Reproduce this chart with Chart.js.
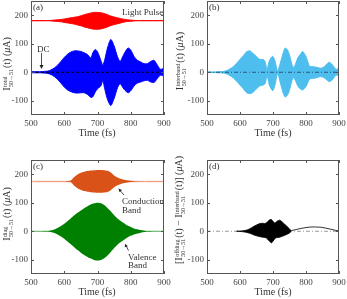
<!DOCTYPE html>
<html>
<head>
<meta charset="utf-8">
<script src="https://cdn.jsdelivr.net/npm/chart.js@4.4.0/dist/chart.umd.min.js"></script>
<style>
  body { margin: 0; background: #fff; width: 347px; height: 299px; overflow: hidden; position: relative; font-family: "Liberation Serif", serif; color: #333; }
  canvas { position: absolute; }
  .t { position: absolute; font-size: 9px; line-height: 9px; white-space: nowrap; }
  .xt { position: absolute; font-size: 10px; line-height: 10px; white-space: nowrap; transform: translate(-50%, -50%); }
  .yt { position: absolute; font-size: 10px; line-height: 10px; white-space: nowrap; transform: translate(-50%, -50%) rotate(-90deg); }
  .ss { display: inline-block; font-size: 6px; line-height: 6px; vertical-align: -3px; margin: 0 1px 0 0.5px; text-align: left; }
  .ss span { display: block; }
  svg { position: absolute; left: 0; top: 0; }
</style>
</head>
<body>
<canvas id="cA" width="173" height="148" style="left:0;top:0"></canvas>
<canvas id="cB" width="175" height="148" style="left:172px;top:0"></canvas>
<canvas id="cC" width="173" height="151" style="left:0;top:148px"></canvas>
<canvas id="cD" width="175" height="151" style="left:172px;top:148px"></canvas>

<div class="yt" style="left:8px;top:64px">I<span class="ss"><span>total</span><span>50→51</span></span>(t) (<i>μ</i>A)</div>
<div class="yt" style="left:181px;top:61px">I<span class="ss"><span>interband</span><span>50→51</span></span>(t) (<i>μ</i>A)</div>
<div class="yt" style="left:8px;top:214px">I<span class="ss"><span>diag</span><span>50→51</span></span>(t) (<i>μ</i>A)</div>
<div class="yt" style="left:180px;top:210px">[I<span class="ss"><span>offdiag</span><span>50→51</span></span>(t) − I<span class="ss"><span>interband</span><span>50→51</span></span>(t)] (<i>μ</i>A)</div>

<div class="xt" style="left:97px;top:133px">Time (fs)</div>
<div class="xt" style="left:273px;top:133px">Time (fs)</div>
<div class="xt" style="left:97px;top:292px">Time (fs)</div>
<div class="xt" style="left:273px;top:292px">Time (fs)</div>

<div class="t" style="left:33px;top:3px">(a)</div>
<div class="t" style="left:209px;top:3px">(b)</div>
<div class="t" style="left:33px;top:162px">(c)</div>
<div class="t" style="left:209px;top:162px">(d)</div>
<div class="t" style="left:122px;top:8px">Light Pulse</div>
<div class="t" style="left:37px;top:45px">DC</div>
<div class="t" style="left:122px;top:197px">Conduction</div>
<div class="t" style="left:122px;top:206px">Band</div>
<div class="t" style="left:128px;top:253px">Valence</div>
<div class="t" style="left:128px;top:261px">Band</div>

<svg width="347" height="299">
  <g stroke="#222" stroke-width="0.8" fill="#222">
    <line x1="41.5" y1="53" x2="41.5" y2="66"/>
    <path d="M39.5,65 L43.5,65 L41.5,69 Z" stroke="none"/>
    <line x1="124" y1="195" x2="119.5" y2="190"/>
    <path d="M118.3,188.5 L122,190 L119.6,192.2 Z" stroke="none"/>
    <line x1="128.5" y1="250.5" x2="126" y2="245.5"/>
    <path d="M125,243.8 L127.8,246.3 L124.8,247.3 Z" stroke="none"/>
  </g>
</svg>

<script>
// axis ticks
const xTicks = [500, 600, 700, 800, 900];
const yTicks = [-100, 0, 100, 200];

// (a) total current envelope
const timeA = [500, 510, 520, 530, 540, 550, 560, 570, 580, 590, 600, 610, 620, 630, 640, 650, 660, 670, 680, 686, 693, 700, 710, 716, 722, 730, 740, 750, 760, 768, 780, 792, 800, 810, 820, 830, 840, 850, 860, 870, 880, 890, 900];
const totalUpper = [2, 2, 2, 2, 3, 4, 8, 15, 25, 38, 52, 63, 71, 75, 75, 73, 68, 62, 50, 68, 80, 72, 42, 25, 45, 85, 115, 92, 55, 38, 65, 85, 78, 55, 42, 36, 30, 30, 38, 42, 25, 10, 15];
const totalLower = [-2, -2, -2, -2, -3, -4, -8, -15, -25, -38, -52, -62, -68, -72, -73, -72, -72, -78, -88, -86, -70, -58, -48, -30, -60, -95, -117, -92, -55, -40, -60, -72, -65, -48, -38, -34, -30, -28, -34, -36, -22, -10, -15];

// (a) light pulse
const timeP = [500, 550, 560, 570, 580, 590, 600, 610, 620, 630, 640, 650, 660, 670, 680, 690, 700, 710, 720, 730, 740, 750, 760, 770, 780, 790, 800, 810, 820, 830, 900];
const pulseUpper = [181, 181, 182, 183, 184, 185, 187, 189, 191, 193, 195, 198, 202, 205, 208, 210, 210, 209, 206, 202, 197, 194, 191, 188, 186, 184, 183, 182, 181.5, 181, 181];
const pulseLower = [181, 181, 180, 179, 178, 177, 175, 173, 171, 169, 166, 163, 159, 156, 153, 151, 151, 152, 155, 159, 164, 167, 170, 173, 176, 178, 179, 180, 180.5, 181, 181];

// (b) interband
const timeB = [500, 520, 540, 550, 560, 570, 580, 590, 600, 610, 620, 630, 640, 650, 660, 670, 676, 682, 689, 699, 706, 714, 724, 730, 737, 744, 750, 760, 765, 775, 782, 790, 800, 810, 817, 830, 845, 856, 864, 871, 881, 891, 900];
const interUpper = [1, 1, 2, 3, 6, 12, 20, 32, 45, 58, 72, 75, 66, 55, 45, 45, 38, 10, 40, 56, 40, 5, 40, 65, 85, 78, 60, 18, 20, 50, 62, 73, 55, 22, 20, 18, 14, 20, 30, 35, 25, 10, 15];
const interLower = [-1, -1, -2, -3, -6, -12, -20, -32, -45, -58, -72, -75, -70, -58, -48, -45, -40, -12, -45, -65, -45, -5, -45, -70, -87, -80, -62, -20, -22, -48, -58, -62, -50, -25, -22, -20, -15, -20, -28, -33, -25, -10, -14];

// (c) diagonal: conduction and valence bands
const baseTimes = [500, 900];
const condBase = [175, 175];
const valBase = [0, 0];
const zeroLine = [0, 0];
const timeC = [500, 600, 610, 620, 630, 640, 650, 660, 670, 680, 690, 700, 710, 720, 730, 740, 750, 760, 770, 780, 790, 800, 810, 820, 830, 840, 900];
const condUpper = [175, 175.5, 176.5, 178, 190, 199, 205, 209, 211, 213, 214, 215, 215, 214, 212, 206, 196, 189, 184, 181, 179, 177, 176, 175.5, 175.2, 175, 175];
const condLower = [175, 174.5, 173.5, 172, 160, 151, 145, 141, 139, 137, 136, 135, 135, 136, 138, 144, 154, 161, 166, 169, 171, 173, 174, 174.5, 174.8, 175, 175];
const timeV = [500, 540, 550, 560, 570, 580, 590, 600, 610, 620, 630, 640, 650, 660, 670, 680, 690, 700, 710, 720, 730, 740, 750, 760, 770, 780, 790, 800, 810, 820, 830, 840, 850, 860, 900];
const valUpper = [0, 0.5, 1, 3, 6, 11, 18, 26, 36, 46, 56, 65, 73, 81, 88, 94, 98, 100, 98, 92, 82, 70, 56, 45, 36, 28, 20, 15, 10, 7, 4, 2, 1, 0.5, 0];
const valLower = [0, -0.5, -1, -3, -6, -11, -18, -26, -36, -46, -56, -66, -75, -83, -90, -96, -101, -103, -101, -95, -85, -73, -59, -47, -38, -30, -22, -16, -11, -8, -5, -3, -1, -0.5, 0];

// (d) offdiag minus interband
const timeD = [590, 600, 610, 620, 630, 640, 650, 660, 670, 675, 680, 685, 690, 695, 700, 705, 710, 715, 720, 725, 730, 740, 750, 755];
const offUpper = [0, 0.5, 2, 4, 9, 16, 22, 27, 28, 27, 30, 35, 40, 41, 35, 29, 33, 37, 39, 36, 30, 20, 8, 2];
const offLower = [0, -0.5, -2, -4, -7, -12, -16, -19, -21, -22, -24, -30, -36, -41, -35, -27, -23, -22, -21, -19, -17, -12, -6, -1];
const tailTimes = [755, 770, 785, 800, 815, 830, 845, 860, 875, 890, 900];
const offTail = [2, 6, 10, 13, 15, 15, 14, 11, 7, 3, 1];

const pts = (times, vals) => times.map((t, i) => ({ x: t, y: vals[i] }));

function band(times, upper, lower, color, width) {
  return [
    { data: pts(times, upper), borderColor: color, backgroundColor: color, borderWidth: width, fill: "+1" },
    { data: pts(times, lower), borderColor: color, borderWidth: width, fill: false },
  ];
}

function line(times, vals, color, dash, width) {
  return { data: pts(times, vals), borderColor: color, borderWidth: width, borderDash: dash, fill: false, tension: 0 };
}

// box with inward ticks, like the original figure
const framePlugin = {
  id: "frame",
  afterDatasetsDraw(chart) {
    const { ctx, chartArea: a, scales } = chart;
    ctx.save();
    ctx.strokeStyle = "#555";
    ctx.lineWidth = 1;
    ctx.strokeRect(a.left + 0.5, a.top + 0.5, a.right - a.left - 1, a.bottom - a.top - 1);
    ctx.beginPath();
    xTicks.forEach((v) => {
      const px = Math.round(scales.x.getPixelForValue(v)) + 0.5;
      ctx.moveTo(px, a.bottom); ctx.lineTo(px, a.bottom - 3);
      ctx.moveTo(px, a.top); ctx.lineTo(px, a.top + 3);
    });
    yTicks.forEach((v) => {
      const py = Math.round(scales.y.getPixelForValue(v)) + 0.5;
      ctx.moveTo(a.left, py); ctx.lineTo(a.left + 3, py);
      ctx.moveTo(a.right, py); ctx.lineTo(a.right - 3, py);
    });
    ctx.stroke();
    ctx.restore();
  },
};

function makeChart(id, datasets, box) {
  const tickFont = { family: "Liberation Serif", size: 9 };
  return new Chart(document.getElementById(id), {
    type: "line",
    data: { datasets: datasets },
    plugins: [framePlugin],
    options: {
      responsive: false,
      animation: false,
      devicePixelRatio: 1,
      layout: { padding: { left: 0, right: box.right, top: box.top, bottom: 0 } },
      plugins: { legend: { display: false }, tooltip: { enabled: false } },
      elements: { point: { radius: 0 }, line: { tension: 0.25 } },
      scales: {
        x: {
          type: "linear", min: 500, max: 900,
          afterBuildTicks: (s) => { s.ticks = xTicks.map((v) => ({ value: v })); },
          afterFit: (s) => { s.height = box.xh; s.paddingLeft = 0; s.paddingRight = 0; },
          grid: { display: false, drawTicks: false },
          border: { display: false },
          ticks: { font: tickFont, color: "#444", padding: 3, maxRotation: 0 },
        },
        y: {
          min: -150, max: 250,
          afterBuildTicks: (s) => { s.ticks = yTicks.map((v) => ({ value: v })); },
          afterFit: (s) => { s.width = box.yw; s.paddingTop = 0; s.paddingBottom = 0; },
          grid: { display: false, drawTicks: false },
          border: { display: false },
          ticks: { font: tickFont, color: "#444", padding: 3 },
        },
      },
    },
  });
}

makeChart("cA", [
  line(baseTimes, zeroLine, "#000", [3, 2], 1),
  ...band(timeP, pulseUpper, pulseLower, "#ff0000", 1),
  ...band(timeA, totalUpper, totalLower, "#0000ff", 1),
], { right: 9, top: 1, yw: 31, xh: 33 });

makeChart("cB", [
  line(baseTimes, zeroLine, "#2a5878", [4, 2, 1, 2], 1),
  ...band(timeB, interUpper, interLower, "#4dbeee", 1),
], { right: 8, top: 1, yw: 35, xh: 33 });

makeChart("cC", [
  ...band(timeC, condUpper, condLower, "#d95319", 0),
  ...band(timeV, valUpper, valLower, "#008000", 0),
  line(baseTimes, condBase, "#f3b9a2", [], 1.5),
  line(baseTimes, valBase, "#a8d6a8", [], 1.5),
], { right: 9, top: 12, yw: 31, xh: 25 });

makeChart("cD", [
  ...band(timeD, offUpper, offLower, "#000", 0.8),
  line(tailTimes, offTail, "#000", [], 0.8),
  line(baseTimes, zeroLine, "#999", [4, 2, 1, 2], 1),
], { right: 8, top: 12, yw: 35, xh: 25 });
</script>
</body>
</html>
